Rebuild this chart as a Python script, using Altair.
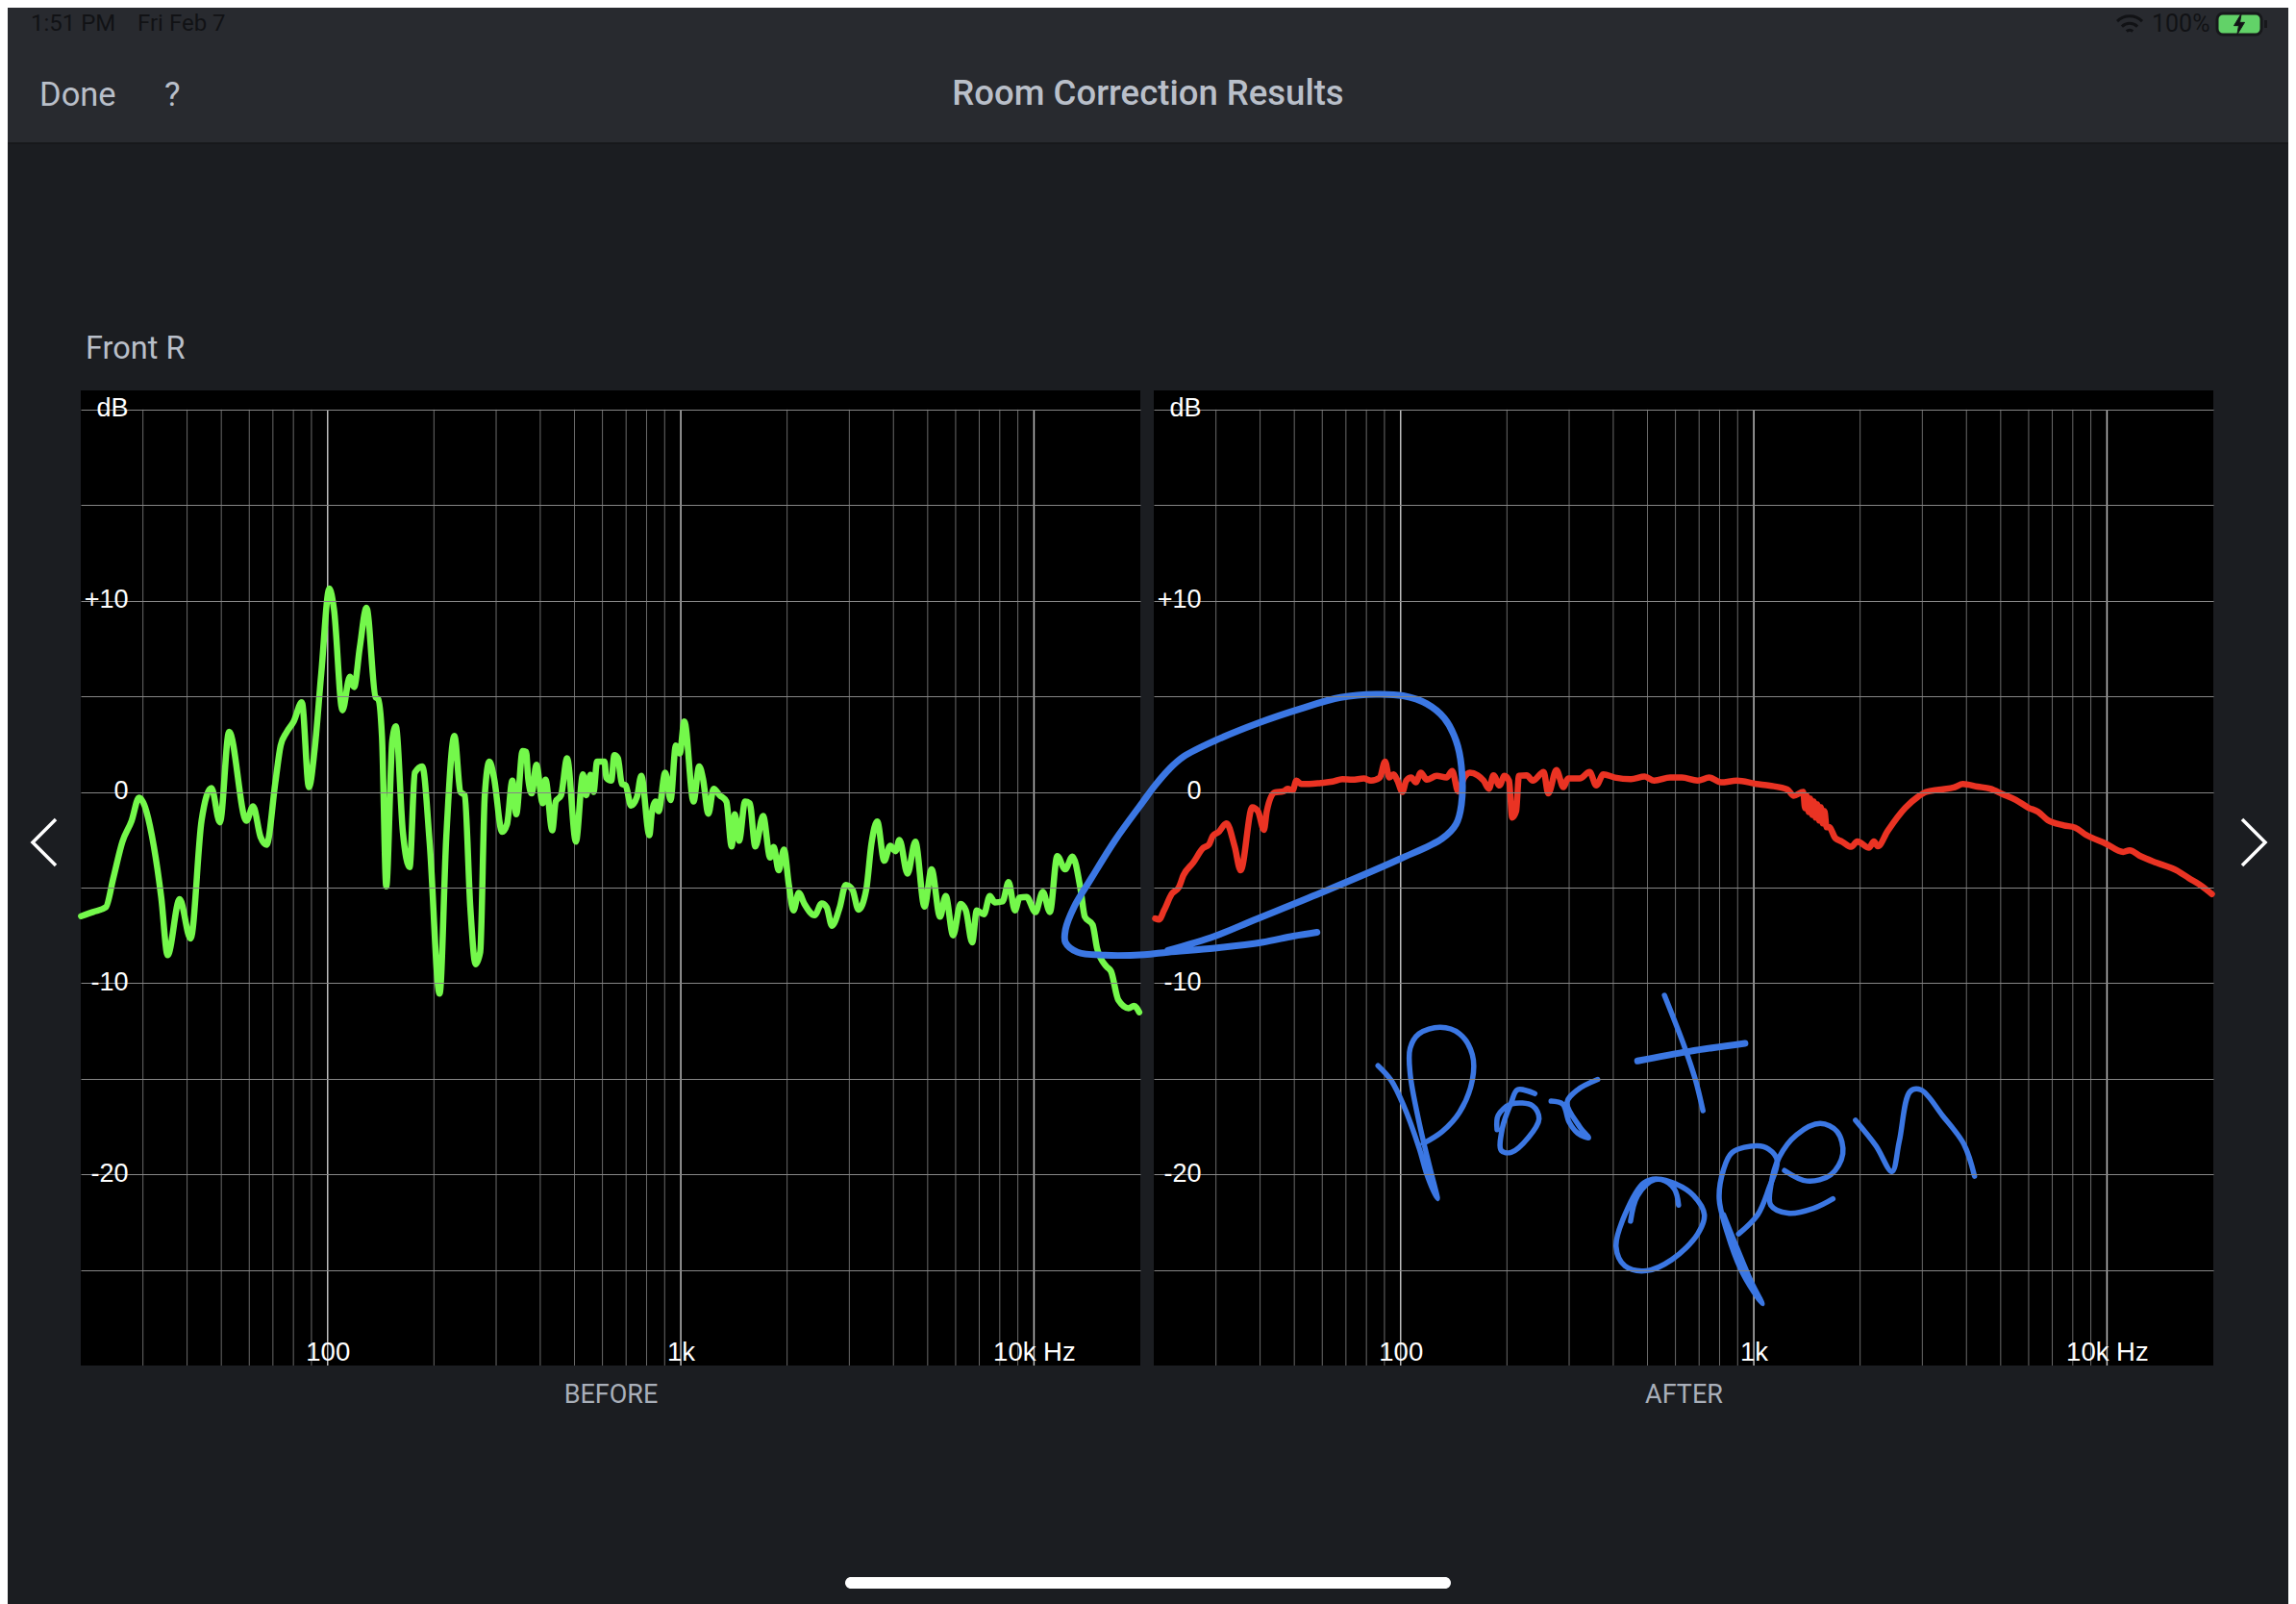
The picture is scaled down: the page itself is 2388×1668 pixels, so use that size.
import altair as alt
import pandas as pd

# ---- values: log10(Hz) and dB ----
before_log_f = [1.302,1.336,1.372,1.393,1.419,1.445,1.466,1.508,1.529,1.547,1.581,1.612,1.643,1.671,1.695,1.721,1.770,1.789,1.810,1.827,1.852,1.867,1.883,1.904,1.927,1.947,1.963,1.982,2.005,2.018,2.042,2.063,2.075,2.091,2.110,2.136,2.143,2.154,2.166,2.183,2.193,2.213,2.232,2.247,2.268,2.289,2.317,2.336,2.359,2.376,2.388,2.404,2.419,2.432,2.445,2.458,2.471,2.494,2.508,2.523,2.534,2.552,2.562,2.568,2.578,2.591,2.609,2.617,2.636,2.646,2.661,2.678,2.703,2.723,2.732,2.744,2.753,2.763,2.784,2.789,2.803,2.812,2.822,2.833,2.844,2.859,2.876,
 2.888,2.911,2.918,2.929,2.937,2.956,2.971,2.986,2.997,3.010,3.036,3.052,3.063,3.078,3.093,3.110,3.129,3.144,3.153,3.165,3.182,3.195,3.211,3.233,3.253,3.263,3.277,3.292,3.306,3.319,3.334,3.350,3.379,3.399,3.413,3.428,3.450,3.467,3.486,3.503,3.525,3.540,3.556,3.576,3.593,3.608,3.619,3.642,3.664,3.690,3.710,3.734,3.750,3.771,3.792,3.807,3.825,3.838,3.858,3.875,3.889,3.911,3.928,3.946,3.959,3.979,4.004,4.025,4.045,4.066,4.088,4.109,4.132,4.144,4.166,4.179,4.205,4.218,4.239,4.268,4.283,4.298]
before_db = [-6.50,-6.28,-6.03,-4.52,-2.60,-1.51,-0.30,-2.85,-5.53,-8.54,-5.61,-7.67,-1.51,0.20,-1.59,3.15,-1.51,-0.75,-2.35,-2.76,0.50,2.43,3.10,3.69,4.69,0.25,2.18,6.20,10.64,9.55,4.27,6.03,5.49,7.54,9.63,4.94,4.86,2.85,-4.94,2.68,3.43,-2.09,-3.94,1.01,1.34,-2.68,-10.55,-2.35,2.93,0.0,-0.17,-6.03,-9.01,-8.38,-0.17,1.59,0.75,-2.09,-1.68,0.59,-1.17,2.14,2.09,0.67,-0.08,1.42,-0.59,0.64,-2.01,-0.50,-0.17,1.76,-2.60,0.92,-0.17,0.89,0.0,1.59,1.59,0.75,0.59,1.93,1.76,0.42,0.34,-0.72,-0.25,
 0.84,-2.26,-1.09,-0.50,-1.01,1.01,-0.42,2.43,2.01,3.69,-0.50,1.34,0.67,-1.14,0.17,-0.17,-0.50,-2.85,-1.17,-2.55,-0.50,-0.59,-2.85,-1.26,-3.43,-2.88,-4.10,-3.02,-4.86,-6.20,-5.28,-5.86,-6.45,-5.83,-6.03,-7.00,-6.03,-4.86,-5.11,-6.16,-5.11,-2.68,-1.54,-3.60,-2.81,-3.10,-2.51,-4.27,-2.60,-6.00,-4.05,-6.53,-5.44,-7.50,-5.86,-6.20,-7.87,-6.20,-6.40,-5.44,-5.78,-5.73,-4.72,-6.20,-5.53,-5.49,-6.28,-5.23,-6.28,-3.35,-4.05,-3.38,-5.11,-6.53,-6.95,-8.21,-9.13,-9.38,-10.89,-11.31,-11.19,-11.52]

after_log_f = [1.305,1.316,1.330,1.352,1.372,1.385,1.413,1.441,1.457,1.468,1.485,1.507,1.530,1.547,1.580,1.596,1.613,1.621,1.643,1.668,1.680,1.694,1.705,1.718,1.741,1.774,1.807,1.835,1.863,1.896,1.916,1.941,1.956,1.968,1.980,1.991,2.005,2.016,2.030,2.043,2.057,2.074,2.102,2.130,2.146,2.163,2.180,2.196,2.218,2.235,2.250,2.263,2.280,2.294,2.307,2.316,2.327,2.335,2.357,2.374,2.405,2.418,2.441,2.461,2.474,2.507,2.535,2.554,2.574,2.607,2.652,2.691,2.718,2.763,2.796,2.841,2.874,2.907,2.952,3.007,
 3.045,3.095,3.113,3.140,3.145,3.150,3.155,3.160,3.165,3.170,3.175,3.180,3.185,3.190,3.195,3.200,3.206,3.213,3.231,3.249,3.276,3.293,3.326,3.340,3.351,3.379,3.429,3.465,3.488,3.524,3.569,3.592,3.633,3.669,3.705,3.742,3.778,3.805,3.832,3.878,3.910,3.941,3.996,4.046,4.064,4.096,4.141,4.196,4.232,4.268,4.297]
after_db = [-6.62,-6.67,-6.20,-5.33,-4.99,-4.36,-3.69,-2.93,-2.76,-2.31,-2.09,-1.64,-2.85,-4.10,-0.80,-1.01,-1.98,-1.01,-0.03,0.03,0.17,0.08,0.59,0.42,0.42,0.47,0.54,0.67,0.64,0.70,0.59,0.75,1.59,0.75,0.92,0.59,0.0,0.59,0.75,0.50,1.01,0.64,0.84,0.75,1.09,0.03,0.75,1.01,0.87,0.59,0.17,0.87,0.34,0.84,0.59,-1.34,-1.01,0.84,0.87,0.59,1.04,-0.08,1.14,0.25,0.70,0.70,1.04,0.34,0.92,0.75,0.67,0.80,0.59,0.75,0.75,0.59,0.75,0.50,0.59,0.42,
 0.33,0.13,-0.20,0.0,-0.85,-0.20,-1.05,-0.35,-1.20,-0.50,-1.35,-0.65,-1.50,-0.80,-1.65,-1.00,-1.85,-1.84,-2.42,-2.59,-2.87,-2.59,-2.92,-2.59,-2.84,-2.04,-0.83,-0.25,0.0,0.12,0.25,0.42,0.28,0.17,-0.12,-0.42,-0.83,-1.04,-1.47,-1.75,-1.87,-2.25,-2.70,-3.14,-3.05,-3.37,-3.71,-4.09,-4.51,-4.92,-5.34]

loop_log_f = [1.763,1.696,1.607,1.474,1.341,1.274,1.163,1.085,1.051,1.051,1.075,1.124,1.192,1.269,1.305,1.345,1.385,1.474,1.596,1.718,1.830,1.930,2.007,2.074,2.124,2.157,2.172,2.172,2.157,2.118,1.996,1.774,1.585,1.474,1.341]
loop_db = [-7.34,-7.54,-7.87,-8.17,-8.38,-8.51,-8.54,-8.38,-7.87,-7.20,-6.03,-4.52,-2.51,-0.55,0.35,1.20,1.84,2.68,3.60,4.36,4.94,5.11,5.03,4.61,3.85,2.68,1.34,-0.67,-1.68,-2.43,-3.52,-5.28,-6.70,-7.54,-8.29]

ink_p_f = [1.936,1.973,2.009,2.052,2.076,2.104,2.082,2.052,2.027,2.027,2.052,2.112,2.167,2.203,2.203,2.167,2.118,2.064]
ink_p_db = [-14.32,-15.08,-16.42,-18.60,-20.10,-21.28,-19.60,-17.26,-14.74,-13.40,-12.65,-12.31,-12.65,-13.74,-15.08,-16.75,-17.76,-18.39]
ink_o_f = [2.380,2.331,2.313,2.288,2.285,2.313,2.361,2.392,2.374,2.313,2.276,2.273]
ink_o_db = [-15.78,-15.58,-16.25,-17.59,-18.76,-18.85,-18.09,-17.09,-16.42,-16.33,-16.92,-17.67]
ink_r_f = [2.426,2.459,2.477,2.501,2.532,2.507,2.471,2.501,2.558]
ink_r_db = [-16.17,-16.33,-17.26,-17.84,-18.09,-17.51,-16.25,-15.58,-15.04]
ink_t1_f = [2.747,2.805,2.835,2.856]
ink_t1_db = [-10.64,-13.40,-15.08,-16.67]
ink_t2_f = [2.671,2.817,2.975]
ink_t2_db = [-14.07,-13.57,-13.15]
ink_O_f = [2.787,2.775,2.738,2.689,2.635,2.610,2.635,2.696,2.768,2.841,2.860,2.829,2.781,2.720,2.671,2.651]
ink_O_db = [-21.61,-20.77,-20.27,-20.44,-22.11,-23.79,-24.79,-25.04,-24.46,-23.12,-22.11,-21.11,-20.52,-20.27,-21.11,-22.45]
ink_pp_f = [2.957,3.011,3.042,3.066,3.042,3.009,2.939,2.914,2.902,2.926,2.963,2.999,3.024,2.993,2.951,2.914]
ink_pp_db = [-23.12,-22.11,-20.77,-19.27,-18.68,-18.51,-18.85,-19.77,-21.28,-23.12,-24.96,-26.13,-26.77,-25.63,-23.79,-22.11]
ink_e_f = [3.087,3.151,3.218,3.252,3.236,3.188,3.121,3.072,3.048,3.048,3.097,3.169,3.224]
ink_e_db = [-19.80,-20.35,-20.02,-18.93,-17.76,-17.34,-17.93,-19.10,-20.61,-21.61,-22.03,-21.78,-21.28]
ink_n_f = [3.288,3.346,3.391,3.412,3.443,3.473,3.534,3.595,3.625]
ink_n_db = [-17.17,-18.51,-19.85,-18.26,-15.66,-15.58,-16.92,-18.43,-20.10]

minor_hz = [30,40,50,60,70,80,90,200,300,400,500,600,700,800,900,2000,3000,4000,5000,6000,7000,8000,9000]
major_hz = [100,1000,10000]
db_ticks = [-25,-20,-15,-10,-5,0,5,10,15,20]

# ---- tables ----
def table(lf, db, name="s"):
    return pd.DataFrame({"f": [10 ** v for v in lf], "db": db, "i": range(len(db)), "s": name})

before = table(before_log_f, before_db)
after = table(after_log_f, after_db)
thick = pd.concat([table(loop_log_f, loop_db, "loop"), table(ink_t2_f, ink_t2_db, "t2")])
thin = pd.concat([table(a, b, n) for a, b, n in [
    (ink_p_f, ink_p_db, "P"), (ink_o_f, ink_o_db, "o"), (ink_r_f, ink_r_db, "r"),
    (ink_t1_f, ink_t1_db, "t1"), (ink_O_f, ink_O_db, "O"), (ink_pp_f, ink_pp_db, "p"),
    (ink_e_f, ink_e_db, "e"), (ink_n_f, ink_n_db, "n")]])
minor = pd.DataFrame({"f": minor_hz})
major = pd.DataFrame({"f": major_hz})
one = pd.DataFrame({"k": [0]})

# ---- panels ----
W, H = 1102, 1014
SANS = "Liberation Sans"
UI = "Roboto"
BG = "#1b1d21"
BAR = "#282a2f"
UI_TEXT = "#b9bfc9"
RIGHT_EDGE = 2380

xs = alt.Scale(type="log", domain=[20, 20000], nice=False)
ys = alt.Scale(domain=[-30, 21], nice=False, zero=False)

def x_enc(title):
    return alt.X("f:Q", scale=xs, axis=alt.Axis(
        title=title, values=major_hz, grid=False, domain=False, ticks=False,
        labelExpr="datum.value==100?'100':datum.value==1000?'1k':'10k Hz'",
        labelPadding=-6, labelBaseline="alphabetic", labelColor="#ffffff", labelFont=SANS,
        labelFontSize=27.5, labelOverlap=False, labelFlush=False, labelBound=False,
        titleColor="#a9afb9", titleFont=UI, titleFontSize=27, titleFontWeight="normal",
        titleY=30, titleBaseline="middle", zindex=1))

y_enc = alt.Y("db:Q", scale=ys, axis=alt.Axis(
    title=None, values=db_ticks, grid=True, gridColor="#868686", gridWidth=1,
    domain=False, ticks=False, labelPadding=-49, labelAlign="right", labelBaseline="middle",
    labelOffset=-1,
    labelExpr="datum.value==20?'dB':datum.value==10?'+10':datum.value==0?'0':datum.value==-10?'-10':datum.value==-20?'-20':''",
    labelColor="#ffffff", labelFont=SANS, labelFontSize=27, labelOverlap=False,
    labelBound=False, labelFlush=False, zindex=1))

def grid_rules(title):
    a = alt.Chart(minor).mark_rule(color="#6a6a6a", strokeWidth=1).encode(
        x=x_enc(title), y=alt.datum(20), y2=alt.datum(-30))
    b = alt.Chart(major).mark_rule(color="#bdbdbd", strokeWidth=1.5).encode(
        x=x_enc(title), y=alt.datum(20), y2=alt.datum(-30))
    return [a, b]

def curve(df, color, title):
    return alt.Chart(df).mark_line(color=color, strokeWidth=6.5, interpolate="monotone",
                                   strokeJoin="round", strokeCap="round").encode(
        x=x_enc(title), y=y_enc, order="i:Q")

def ink(df, width, title):
    return alt.Chart(df).mark_line(color="#3b77e3", strokeWidth=width, interpolate="catmull-rom",
                                   strokeJoin="round", strokeCap="round").encode(
        x=x_enc(title), y=y_enc, detail="s:N", order="i:Q")

# ---- screen furniture: positions in screen pixels, turned into panel pixels ----
OX, OY = 84, 406

def box(x0, y0, x1, y1, fill, **kw):
    return alt.Chart(one).mark_rect(fill=fill, **kw).encode(
        x=alt.value(x0 - OX), x2=alt.value(x1 - OX), y=alt.value(y0 - OY), y2=alt.value(y1 - OY))

def label(text, x, y, size, color, font=UI, weight="normal", align="left"):
    return alt.Chart(one).mark_text(text=text, font=font, fontSize=size, color=color,
                                    fontWeight=weight, align=align, baseline="middle").encode(
        x=alt.value(x - OX), y=alt.value(y - OY))

def glyph(path, x, y, size, **kw):
    return alt.Chart(one).mark_point(shape=path, size=size, opacity=1, **kw).encode(
        x=alt.value(x - OX), y=alt.value(y - OY))

WIFI = "M -1 -0.3 A 1.4 1.4 0 0 1 1 -0.3 M -0.62 0.12 A 0.9 0.9 0 0 1 0.62 0.12 M -0.25 0.5 A 0.4 0.4 0 0 1 0.25 0.5"
BOLT = "M 0.2 -1 L -0.5 0.15 L -0.05 0.15 L -0.2 1 L 0.5 -0.15 L 0.05 -0.15 Z"
LEFT = "M 0.5 -1 L -0.5 0 L 0.5 1"
RIGHT = "M -0.5 -1 L 0.5 0 L -0.5 1"

furniture = [
    box(8, 8, RIGHT_EDGE, 148, BAR),
    box(8, 148, RIGHT_EDGE, 150, "#17181b"),
    box(8, 1420, RIGHT_EDGE, 1668, BG),
    label("1:51 PM", 32, 25, 24, "#111215"),
    label("Fri Feb 7", 143, 25, 24, "#111215"),
    label("100%", 2238, 25, 25, "#111215"),
    glyph(WIFI, 2215, 26, 676, filled=False, stroke="#111215", strokeWidth=3),
    box(2306, 14, 2352, 36, "#62d268", stroke="#17181b", strokeWidth=3, cornerRadius=6),
    box(2355, 21, 2358, 29, "#17181b"),
    glyph(BOLT, 2329, 25, 484, filled=True, fill="#111215", stroke="#17181b", strokeWidth=1),
    label("Done", 41, 100, 34.5, UI_TEXT),
    label("?", 171, 99, 35, UI_TEXT),
    label("Room Correction Results", 1194, 98, 36.5, UI_TEXT, weight=500, align="center"),
    label("Front R", 89, 363, 32.5, UI_TEXT),
    glyph(LEFT, 46, 876, 2304, filled=False, stroke="#ffffff", strokeWidth=3.5),
    glyph(RIGHT, 2344, 876, 2304, filled=False, stroke="#ffffff", strokeWidth=3.5),
    box(879, 1640, 1509, 1652, "#ffffff", cornerRadius=6),
]

left = alt.layer(
    alt.Chart(before).mark_line(opacity=0).encode(x=x_enc("BEFORE"), y=y_enc, order="i:Q"),
    *grid_rules("BEFORE"),
    curve(before, "#74f84b", "BEFORE"),
    *furniture,
).properties(width=W, height=H)

right = alt.layer(
    alt.Chart(after).mark_line(opacity=0).encode(x=x_enc("AFTER"), y=y_enc, order="i:Q"),
    *grid_rules("AFTER"),
    curve(after, "#ea3323", "AFTER"),
    ink(thick, 7, "AFTER"),
    ink(thin, 5.5, "AFTER"),
).properties(width=W, height=H)

chart = alt.HConcatChart(hconcat=[left, right], spacing=14, bounds="flush").configure(
    background=BG, padding=0, font=SANS
).configure_view(fill="#000000", stroke=None)

chart.save("out.html", embed_options={"renderer": "svg", "actions": False})
